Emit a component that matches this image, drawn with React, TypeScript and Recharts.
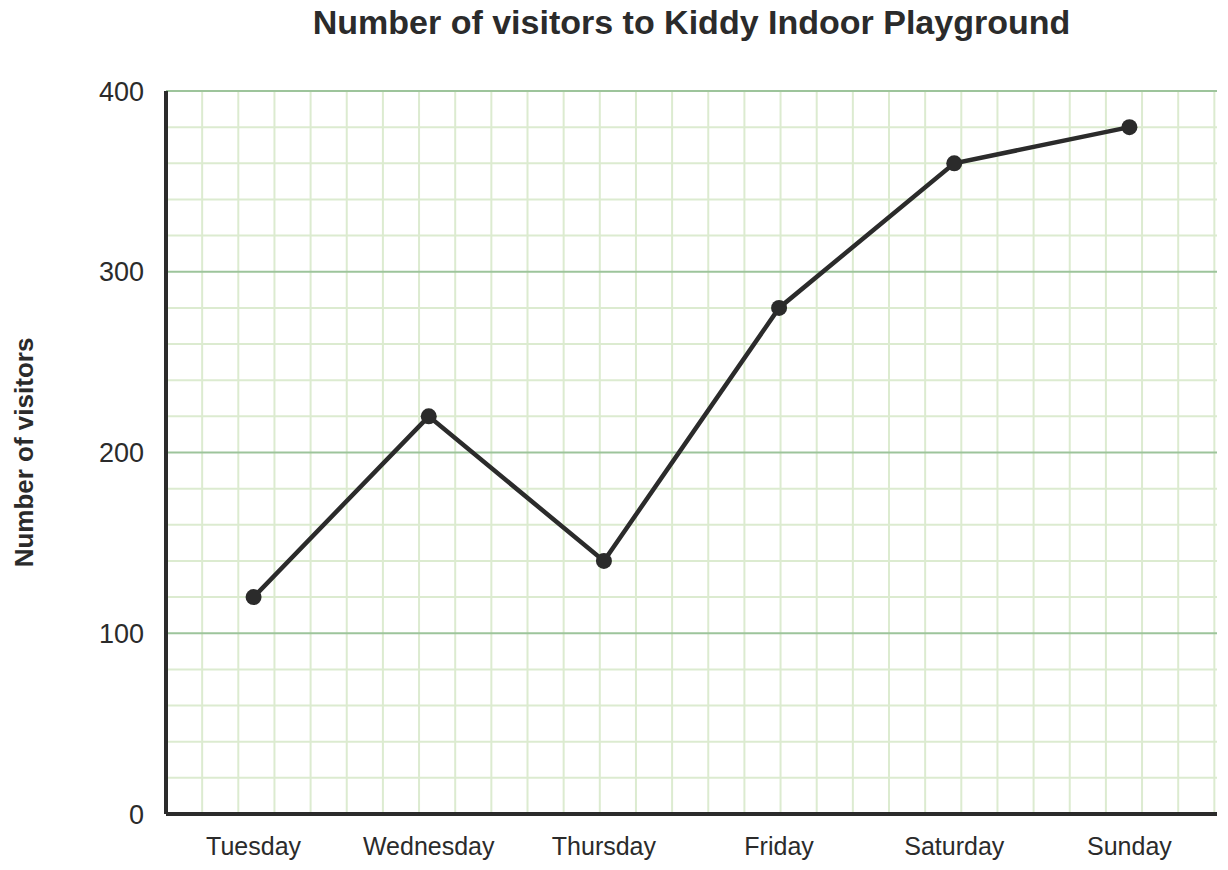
import React from "react";
import { LineChart, Line, XAxis, YAxis, CartesianGrid } from "recharts";

const days = ["Tuesday", "Wednesday", "Thursday", "Friday", "Saturday", "Sunday"];
const visitors = [120, 220, 140, 280, 360, 380];
const yTicks = [0, 100, 200, 300, 400];
const minorY = [20, 40, 60, 80, 120, 140, 160, 180, 220, 240, 260, 280, 320, 340, 360, 380];

const Y_MAX = 400;
const MINOR_STEP = 20;
const FONT = "'Liberation Sans', Arial, sans-serif";
const INK = "#2b2b2b";

const data = days.map((d, i) => ({ day: d, v: visitors[i] }));

// square cells: vertical spacing follows the y step in pixels
function verticalLines({ offset }: any) {
  const step = (offset.height * MINOR_STEP) / Y_MAX;
  const out: number[] = [];
  for (let x = offset.left + step; x <= offset.left + offset.width + 2; x += step) out.push(x);
  return out;
}

function YTitle(props: any) {
  const vb = props.viewBox;
  const x = vb.x + 33;
  const y = vb.y + vb.height / 2;
  return (
    <text
      x={x}
      y={y}
      transform={`rotate(-90 ${x} ${y})`}
      textAnchor="middle"
      fontFamily={FONT}
      fontSize={26}
      fontWeight="bold"
      fill={INK}
    >
      Number of visitors
    </text>
  );
}

export default function App() {
  return (
    <div style={{ position: "absolute", left: 0, top: 0, width: 1228, height: 870 }}>
      <div
        style={{
          position: "absolute",
          left: 166,
          width: 1051,
          top: 5,
          textAlign: "center",
          fontFamily: FONT,
          fontSize: 34,
          lineHeight: "34px",
          fontWeight: "bold",
          color: INK,
        }}
      >
        Number of visitors to Kiddy Indoor Playground
      </div>
      <LineChart
        width={1228}
        height={870}
        data={data}
        margin={{ top: 91, right: 11, bottom: 0, left: 0 }}
      >
        <CartesianGrid
          stroke="#dcebd0"
          strokeWidth={2}
          horizontalValues={minorY}
          verticalCoordinatesGenerator={verticalLines}
        />
        <CartesianGrid stroke="#9dc49b" strokeWidth={2} vertical={false} />
        <XAxis
          dataKey="day"
          scale="band"
          height={56}
          axisLine={{ stroke: INK, strokeWidth: 4 }}
          tickLine={false}
          tickSize={0}
          tickMargin={23}
          tick={{ fontSize: 25, fill: INK, fontFamily: FONT }}
        />
        <YAxis
          width={166}
          domain={[0, Y_MAX]}
          ticks={yTicks}
          axisLine={{ stroke: INK, strokeWidth: 4 }}
          tickLine={false}
          tickSize={0}
          tickMargin={22}
          tick={{ fontSize: 27, fill: INK, fontFamily: FONT }}
          label={{ content: YTitle }}
        />
        <Line
          dataKey="v"
          stroke={INK}
          strokeWidth={4.5}
          dot={{ r: 8, fill: INK, stroke: INK, strokeWidth: 0 }}
          activeDot={false}
          isAnimationActive={false}
        />
      </LineChart>
    </div>
  );
}
